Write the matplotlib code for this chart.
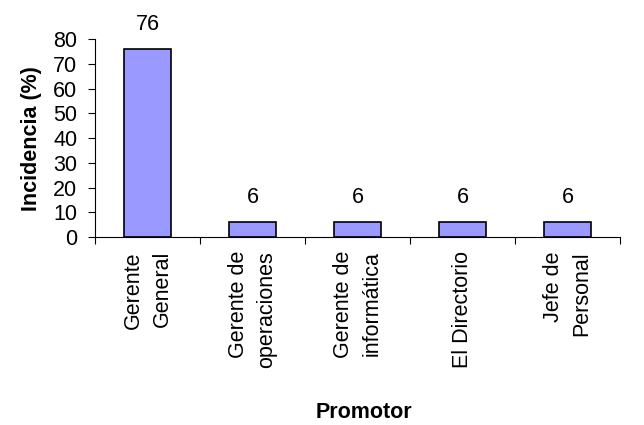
import matplotlib.pyplot as plt
import numpy as np

plt.rcParams['font.family'] = ['Liberation Sans', 'DejaVu Sans']

# Datos
promotores = ['Gerente\nGeneral', 'Gerente de\noperaciones', 'Gerente de\ninformática',
              'El Directorio', 'Jefe de\nPersonal']
incidencia = [76, 6, 6, 6, 6]  # %

fig = plt.figure(figsize=(6.44, 4.25), dpi=100)
ax = fig.add_axes([0.148, 0.442, 0.815, 0.466])

x = np.arange(len(promotores))
ax.bar(x, incidencia, width=0.45, color='#9999FF', edgecolor='black', linewidth=1.2)

for xi, v in zip(x, incidencia):
    ax.annotate(str(v), (xi, v), xytext=(0, 10), textcoords='offset points',
                ha='center', va='bottom', fontsize=15.5)

ax.set_xlim(-0.5, len(promotores) - 0.5)
ax.set_ylim(0, 80)
ax.set_yticks(np.arange(0, 81, 10))
ax.tick_params(axis='y', labelsize=15.5, length=5, width=0.8, pad=8)

# marcas entre categorias, etiquetas centradas
ax.set_xticks(np.arange(0, len(promotores) + 1) - 0.5)
ax.set_xticklabels([])
ax.set_xticks(x, minor=True)
ax.set_xticklabels(promotores, minor=True, rotation=90, fontsize=15.5,
                   va='top', ha='center', multialignment='right', linespacing=1.45)
ax.tick_params(axis='x', which='major', length=5, width=0.8)
ax.tick_params(axis='x', which='minor', length=0, pad=10)

for s in ['top', 'right']:
    ax.spines[s].set_visible(False)
ax.spines['left'].set_linewidth(0.8)
ax.spines['bottom'].set_linewidth(0.8)

ax.set_ylabel('Incidencia (%)', fontsize=15.5, fontweight='bold', labelpad=8)
fig.text(0.565, 0.03, 'Promotor', fontsize=15.5, fontweight='bold', ha='center', va='center')

plt.savefig('out.png', dpi=100)
